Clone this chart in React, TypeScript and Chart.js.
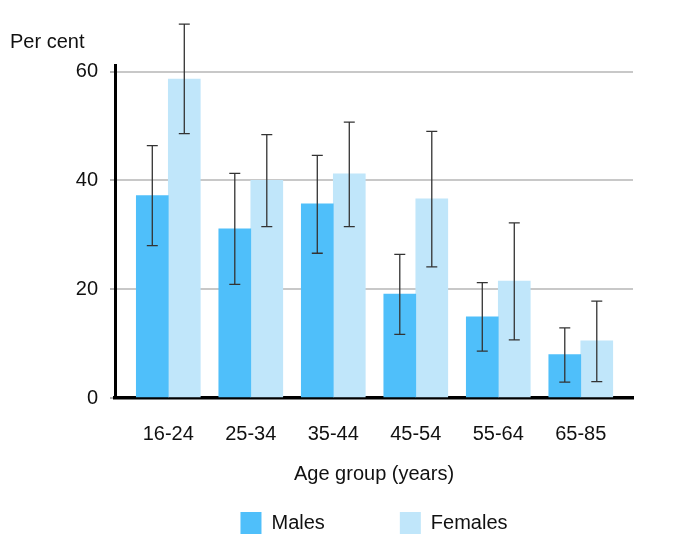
import React, { useEffect, useRef } from 'react';
import { Chart, registerables } from 'chart.js';

Chart.register(...registerables);

// ---- data ----
const categories = ['16-24', '25-34', '35-44', '45-54', '55-64', '65-85'];
const seriesNames = ['Males', 'Females'];
const malesValues = [37.2, 31.1, 35.7, 19.1, 14.9, 8.0];
const malesLow = [28.0, 20.9, 26.6, 11.7, 8.6, 2.9];
const malesHigh = [46.4, 41.3, 44.6, 26.4, 21.2, 12.9];
const femalesValues = [58.6, 40.0, 41.2, 36.6, 21.5, 10.5];
const femalesLow = [48.6, 31.5, 31.5, 24.1, 10.7, 3.0];
const femalesHigh = [68.7, 48.4, 50.7, 49.0, 32.2, 17.8];
const yTicks = [0, 20, 40, 60];
const yTitle = 'Per cent';
const xTitle = 'Age group (years)';

// ---- styles ----
const MALE_COLOR = '#4FBFFA';
const FEMALE_COLOR = '#C0E6FA';
const TEXT_COLOR = '#111111';

function hasFont(name: string): boolean {
  const c = document.createElement('canvas').getContext('2d');
  if (!c) return false;
  const sample = 'Age group (years) 16-24';
  c.font = '24px monospace';
  const a = c.measureText(sample).width;
  c.font = `24px "${name}", monospace`;
  const b = c.measureText(sample).width;
  return Math.abs(a - b) > 0.5;
}

export default function App() {
  const ref = useRef<HTMLCanvasElement | null>(null);

  useEffect(() => {
    if (!ref.current) return;
    const narrow = hasFont('Liberation Sans Narrow');
    const family = narrow
      ? '"Liberation Sans Narrow", "Liberation Sans", Arial, sans-serif'
      : '"Liberation Sans", Arial, sans-serif';
    const size = narrow ? 24 : 20;
    const font = { family, size, weight: 'normal' as const };

    const errors = [
      { low: malesLow, high: malesHigh },
      { low: femalesLow, high: femalesHigh },
    ];

    const errorBarPlugin = {
      id: 'errorBars',
      afterDatasetsDraw(chart: any) {
        const ctx = chart.ctx;
        const ys = chart.scales.y;
        ctx.save();
        ctx.strokeStyle = '#333333';
        ctx.lineWidth = 1.3;
        chart.data.datasets.forEach((_ds: any, di: number) => {
          const meta = chart.getDatasetMeta(di);
          const e = errors[di];
          meta.data.forEach((bar: any, i: number) => {
            const x = bar.x;
            const yl = ys.getPixelForValue(e.low[i]);
            const yh = ys.getPixelForValue(e.high[i]);
            const cap = 5.5;
            ctx.beginPath();
            ctx.moveTo(x, yl);
            ctx.lineTo(x, yh);
            ctx.moveTo(x - cap, yh);
            ctx.lineTo(x + cap, yh);
            ctx.moveTo(x - cap, yl);
            ctx.lineTo(x + cap, yl);
            ctx.stroke();
          });
        });
        ctx.restore();
      },
    };

    const textPlugin = {
      id: 'extraText',
      afterDraw(chart: any) {
        const ctx = chart.ctx;
        const area = chart.chartArea;
        ctx.save();
        ctx.font = `${size}px ${family}`;
        ctx.fillStyle = TEXT_COLOR;
        // y-axis title (horizontal, above axis)
        ctx.textAlign = 'left';
        ctx.textBaseline = 'alphabetic';
        ctx.fillText(yTitle, 10, 48);

        // legend
        const boxW = 21;
        const boxH = 22;
        const gapText = 10;
        const gapItems = 75;
        const items = chart.data.datasets.map((ds: any) => ({
          label: ds.label as string,
          color: ds.backgroundColor as string,
          w: ctx.measureText(ds.label).width,
        }));
        const total = items.reduce(
          (s: number, it: any, i: number) => s + boxW + gapText + it.w + (i > 0 ? gapItems : 0),
          0
        );
        let x = (area.left + area.right) / 2 - total / 2;
        const cy = 523;
        ctx.textBaseline = 'middle';
        items.forEach((it: any) => {
          ctx.fillStyle = it.color;
          ctx.fillRect(x, cy - boxH / 2, boxW, boxH);
          ctx.fillStyle = TEXT_COLOR;
          ctx.fillText(it.label, x + boxW + gapText, cy);
          x += boxW + gapText + it.w + gapItems;
        });
        ctx.restore();
      },
    };

    const chart = new Chart(ref.current, {
      type: 'bar',
      data: {
        datasets: [
          {
            label: seriesNames[0],
            data: malesValues.map((v, i) => ({ x: i, y: v })),
            backgroundColor: MALE_COLOR,
            borderWidth: 0,
            barThickness: 32,
          },
          {
            label: seriesNames[1],
            data: femalesValues.map((v, i) => ({ x: i, y: v })),
            backgroundColor: FEMALE_COLOR,
            borderWidth: 0,
            barThickness: 32,
          },
        ],
      },
      options: {
        animation: false,
        responsive: true,
        maintainAspectRatio: false,
        layout: { padding: { top: 65, right: 52, bottom: 60, left: 0 } },
        plugins: {
          legend: { display: false },
          tooltip: { enabled: false },
          title: { display: false },
        },
        scales: {
          x: {
            type: 'linear',
            bounds: 'data',
            offset: false,
            min: -0.646,
            max: 5.633,
            afterBuildTicks: (s: any) => {
              s.ticks = categories.map((_c, i) => ({ value: i }));
            },
            afterFit: (s: any) => {
              s.height = 100;
            },
            grid: { offset: false, drawOnChartArea: false, drawTicks: false },
            border: { display: true, color: '#000000', width: 3.5 },
            ticks: {
              font,
              color: TEXT_COLOR,
              padding: 24,
              maxRotation: 0,
              autoSkip: false,
              callback: (v: any) => categories[Math.round(Number(v))] ?? '',
            },
            title: {
              display: true,
              text: xTitle,
              font,
              color: TEXT_COLOR,
              padding: { top: 0, bottom: 12 },
            },
          },
          y: {
            type: 'linear',
            min: 0,
            max: 61.2,
            afterBuildTicks: (s: any) => {
              s.ticks = yTicks.map((v) => ({ value: v }));
            },
            afterFit: (s: any) => {
              s.width = 115;
            },
            grid: {
              color: '#c8c8c8',
              lineWidth: 2,
              drawTicks: true,
              tickLength: 5,
              tickColor: '#b4b4b4',
            },
            border: { display: true, color: '#000000', width: 3 },
            ticks: {
              font,
              color: TEXT_COLOR,
              padding: 12,
              callback: (v: any) => String(v),
            },
          },
        },
      },
      plugins: [errorBarPlugin, textPlugin],
    } as any);

    return () => chart.destroy();
  }, []);

  return (
    <div
      style={{
        position: 'absolute',
        left: 0,
        top: 0,
        width: 685,
        height: 558,
        background: '#ffffff',
      }}
    >
      <canvas ref={ref} />
    </div>
  );
}
